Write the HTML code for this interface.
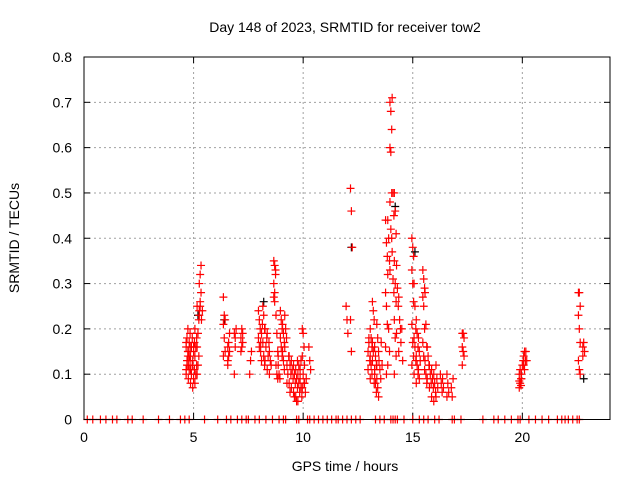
<!DOCTYPE html>
<html><head><meta charset="utf-8"><style>
html,body{margin:0;padding:0;background:#fff;}
svg{display:block;font-family:"Liberation Sans",sans-serif;}
</style></head><body>
<svg id="chart" width="640" height="480" viewBox="0 0 640 480">
<text x="345" y="32" text-anchor="middle" font-size="14">Day 148 of 2023, SRMTID for receiver tow2</text>
<text x="345" y="471" text-anchor="middle" font-size="14">GPS time / hours</text>
<text transform="translate(19,238) rotate(-90)" text-anchor="middle" font-size="14">SRMTID / TECUs</text>
<g id="grid"></g><g id="ticks"></g><g id="marks"></g>
<rect x="84" y="57" width="526" height="362.5" fill="none" stroke="#000" stroke-width="1"/>
</svg>
<script>
const xTicks=[0,5,10,15,20];
const yTicks=[0,0.1,0.2,0.3,0.4,0.5,0.6,0.7,0.8];
const yTickLabels=["0","0.1","0.2","0.3","0.4","0.5","0.6","0.7","0.8"];
const clusterHours=[4.7,4.8,4.9,5.0,5.1,5.2,5.3,5.4,6.4,6.6,6.9,7.2,7.6,8.0,8.1,8.2,8.3,8.4,8.5,8.7,8.8,8.9,9.0,9.1,9.2,9.3,9.4,9.5,9.6,9.7,9.8,9.9,10.0,10.1,10.3,12.0,12.2,13.0,13.1,13.2,13.3,13.4,13.5,13.6,13.8,13.9,14.0,14.1,14.2,14.3,14.4,14.5,15.0,15.1,15.2,15.3,15.5,15.6,15.7,15.8,15.9,16.0,16.1,16.3,16.4,16.6,16.8,17.3,19.9,20.0,20.1,20.2,22.6,22.8];
const clusterValues=[
[.10,.12,.14,.16,.18,.20,.11,.13,.15,.17],[.09,.11,.13,.15,.17,.19,.12,.14,.16],[.08,.10,.12,.14,.16,.18,.11],[.07,.09,.11,.13,.15,.17,.12,.16],[.08,.10,.12,.14,.16,.18,.20],[.10,.12,.14,.16,.19,.22,.25],[.24,.26,.28,.30,.32,.34,.23,.25],[.22,.24],
[.27,.23,.22,.21,.18,.15,.14],[.12,.14,.15,.16,.17,.19,.13],[.10,.16,.20,.19,.18],[.15,.16,.19,.18,.20,.17],[.10,.13,.15],
[.24,.22,.20,.18,.16],[.17,.19,.21,.15,.13],[.25,.23,.20,.17,.14,.12],[.20,.16,.18,.13],[.11,.14,.17,.19],[.15,.13,.12,.10],
[.35,.34,.33,.30,.28,.32,.27,.26],[.23,.19,.15,.12,.10,.09],[.14,.10,.09,.12],[.24,.22,.20,.18,.16,.14],[.21,.19,.17,.15,.13,.11],[.23,.20,.18,.16],[.12,.10,.14,.08],
[.14,.12,.10,.08,.06],[.13,.11,.09,.07],[.12,.10,.08,.06,.05],[.11,.09,.07,.05,.04,.13],[.10,.08,.06,.04,.12],[.09,.07,.05,.11,.13],[.20,.19,.16,.14,.10,.08,.07],[.08,.06,.09,.12],[.16,.13,.11],
[.25,.22,.19],[.51,.46,.38,.22,.15],
[.15,.17,.13,.11,.18],[.20,.18,.16,.14,.12,.10,.09],[.26,.24,.22,.17,.15,.08,.13],[.16,.14,.12,.10,.08,.06,.11],[.21,.18,.15,.12,.07,.05,.09],[.13,.11,.09],[.17,.12],
[.44,.39,.36,.28,.25,.21,.16,.10],[.44,.40,.35,.32,.20,.15,.12],[.70,.68,.64,.60,.59,.50,.48,.42,.40,.33],[.71,.50,.45,.37,.31,.28],[.50,.46,.41,.35,.30,.26,.22,.18,.14,.10],[.34,.29,.25,.19],[.27,.22,.20,.15],[.17,.20,.13],
[.40,.38,.36,.33,.30,.26,.21,.17,.14,.12],[.30,.25,.20,.18,.16,.13,.10],[.22,.19,.16,.14,.12,.10,.08],[.18,.15,.13,.11,.09],[.33,.31,.29,.27,.25,.20,.17,.14,.11],[.28,.21,.16,.13,.10,.08],[.16,.14,.12,.09],
[.12,.10,.08,.07],[.11,.09,.07,.05],[.10,.08,.06,.04],[.12,.09,.07,.05],[.10,.08,.06],[.09,.07],[.10,.08,.06,.05],[.07,.05,.09],
[.19,.19,.18,.16,.15,.14,.12],
[.07,.08,.09,.10,.11,.075,.085],[.10,.12,.13,.09],[.14,.15,.13,.12,.11],[.15,.13],
[.28,.28,.25,.23,.20,.17,.13,.11,.10],[.16,.17,.15,.14]];
const zeroHours=[0.15,0.4,0.75,1.0,1.3,1.5,2.0,2.2,2.7,3.4,3.9,4.4,4.6,4.8,5.5,6.1,6.5,6.7,7.0,7.2,7.4,7.5,7.8,8.0,8.3,8.6,8.9,9.1,9.2,9.7,9.8,10.2,10.3,10.5,10.7,10.9,11.1,11.3,11.5,11.6,11.8,12.0,12.2,12.4,12.6,13.3,13.5,13.7,14.0,14.1,14.2,14.3,14.6,15.0,15.3,15.5,15.7,16.0,16.2,16.8,16.9,17.2,18.2,18.7,18.9,19.2,19.5,19.8,19.9,20.3,20.6,20.9,21.2,21.6,21.8,21.95,22.1,22.3,22.5,22.6];
const blackHours=[5.2,6.4,8.2,12.2,14.2,15.1,22.8];
const blackValues=[.23,.22,.26,.38,.47,.37,.09];

const NS="http://www.w3.org/2000/svg";
const X=h=>84+h*(526/24);
const Y=v=>419.5-v*(362.5/0.8);
function mk(tag,attrs,parent){const e=document.createElementNS(NS,tag);for(const k in attrs)e.setAttribute(k,attrs[k]);parent.appendChild(e);return e;}
const grid=document.getElementById('grid'),ticks=document.getElementById('ticks'),marks=document.getElementById('marks');
xTicks.forEach(t=>{
  if(t>0){const g=mk('line',{x1:X(t),x2:X(t),y1:57,y2:419.5,stroke:'#a0a0a0','stroke-dasharray':'2,3'},grid);
  
  }
  mk('line',{x1:X(t),x2:X(t),y1:419.5,y2:413,stroke:'#000'},ticks);
  mk('line',{x1:X(t),x2:X(t),y1:57,y2:63,stroke:'#000'},ticks);
  const l=mk('text',{x:X(t),y:442,'text-anchor':'middle','font-size':14},ticks);l.textContent=t;
  
  
});
yTicks.forEach((t,i)=>{
  if(t>0&&t<0.8){const g=mk('line',{x1:84,x2:610,y1:Y(t),y2:Y(t),stroke:'#a0a0a0','stroke-dasharray':'2,3'},grid);
  
  }
  mk('line',{x1:84,x2:90,y1:Y(t),y2:Y(t),stroke:'#000'},ticks);
  mk('line',{x1:604,x2:610,y1:Y(t),y2:Y(t),stroke:'#000'},ticks);
  const l=mk('text',{x:72,y:Y(t)+5,'text-anchor':'end','font-size':14},ticks);l.textContent=yTickLabels[i];
  
  
});
function cross(h,v,col,name){
  const x=X(h),y=Y(v);
  const p=mk('path',{d:`M${x-4},${y}H${x+4}M${x},${y-4}V${y+4}`,stroke:col,'stroke-width':1.2,fill:'none'},marks);
  
  
}
blackHours.forEach((h,i)=>cross(h,blackValues[i],'#000','point-black'));
clusterHours.forEach((h,i)=>clusterValues[i].forEach((v,j)=>cross(h+((j%3)-1)*0.04,v,'#f00','point-srmtid')));
zeroHours.forEach(h=>cross(h,0,'#f00','point-zero'));
</script>
</body></html>
